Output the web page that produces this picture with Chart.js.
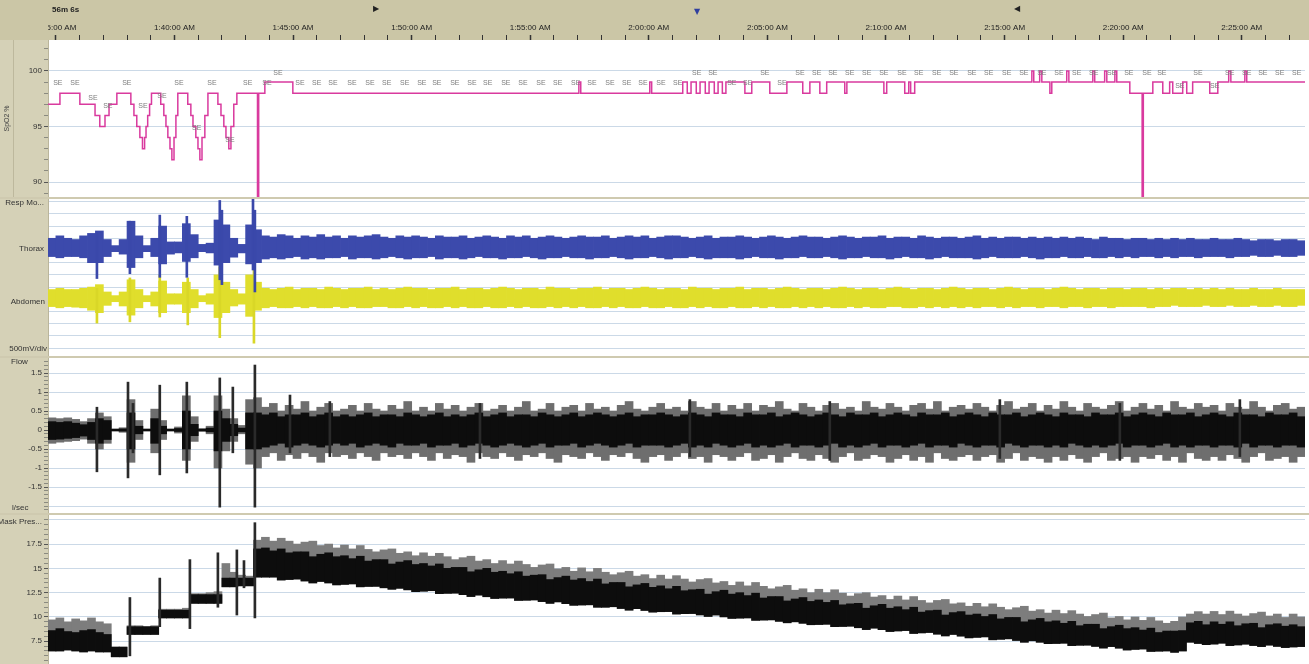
<!DOCTYPE html>
<html>
<head>
<meta charset="utf-8">
<script src="https://cdn.jsdelivr.net/npm/chart.js@4.4.1/dist/chart.umd.min.js"></script>
<style>
	body { margin: 0; background: #cfcab0; }
	#wrap { position: relative; width: 1309px; height: 664px; overflow: hidden; background: #cfcab0; }
	canvas { position: absolute; left: 0; display: block; }
</style>
</head>
<body>
<div id="wrap">
	<canvas id="spo2" width="1309" height="197" style="top:0px"></canvas>
	<canvas id="resp" width="1309" height="157" style="top:199px"></canvas>
	<canvas id="flow" width="1309" height="155" style="top:358px"></canvas>
	<canvas id="mask" width="1309" height="149" style="top:515px"></canvas>
</div>
<script>
// time in minutes after midnight, 20 s bins for the dense signals
const xMin = 94.6667, xMax = 147.6667
const binStart = 94.6667, binStep = 1 / 3

const timeTickMinutes = [95, 100, 105, 110, 115, 120, 125, 130, 135, 140, 145]
const timeTickLabels = ['1:35:00 AM', '1:40:00 AM', '1:45:00 AM', '1:50:00 AM', '1:55:00 AM', '2:00:00 AM', '2:05:00 AM', '2:10:00 AM', '2:15:00 AM', '2:20:00 AM', '2:25:00 AM']

const spo2TickValues = [89, 90, 91, 92, 93, 94, 95, 96, 97, 98, 99, 100, 101, 102]
const spo2LabelValues = [100, 95, 90]
const spo2Labels = ['100', '95', '90']
const flowLabelValues = [1.5, 1, 0.5, 0, -0.5, -1, -1.5]
const flowLabels = ['1.5', '1', '0.5', '0', '-0.5', '-1', '-1.5']
const maskLabelValues = [17.5, 15, 12.5, 10, 7.5]
const maskLabels = ['17.5', '15', '12.5', '10', '7.5']

const respLabels = ['Resp Mo...', 'Thorax', 'Abdomen', '500mV/div']
const respLabelValues = [12.9, 9.1, 4.8, 0.95]

// SpO2 step trace: time the level starts, level
const spo2Times = [94.66, 95.17, 96.01, 96.65, 96.85, 97.07, 97.24, 97.57,
	98.16, 98.29, 98.41, 98.54, 98.65, 98.74, 98.8, 98.87, 98.95, 99.03,
	99.42, 99.55, 99.64, 99.72, 99.81, 99.89, 99.98, 100.06, 100.14,
	100.56, 100.69, 100.78, 100.9, 100.99, 101.07, 101.16, 101.28, 101.41,
	101.83, 101.96, 102.08, 102.17, 102.29, 102.38, 102.5, 102.63,
	103.5, 103.55, 103.81, 104.99,
	117.05, 117.13, 120.04, 120.12,
	121.43, 121.62, 121.78, 122.0, 122.16, 122.38, 122.54, 122.76, 122.92, 123.1, 123.25,
	124.05, 124.34, 125.1, 125.82, 126.49, 126.79, 127.21, 127.5, 128.26, 128.35, 129.91, 130.03, 130.79, 130.96, 131.04, 131.21,
	136.15, 136.23, 136.48, 136.57, 136.91, 136.99, 137.62, 137.71, 138.72, 138.8, 139.22, 139.31, 139.65, 139.73,
	140.28, 140.8, 140.85, 141.25, 141.67, 141.96, 142.09, 142.51, 142.68, 142.93, 143.65, 143.99, 144.45, 144.54, 145.13, 145.21, 147.67]
const spo2Values = [97, 98, 97, 96, 95, 96, 97, 98,
	97, 96, 95, 94, 93, 94, 95, 96, 97, 98,
	97, 96, 95, 94, 93, 92, 94, 96, 98,
	97, 96, 95, 94, 93, 92, 94, 96, 98,
	97, 96, 95, 94, 93, 95, 97, 98,
	88, 98, 99, 98,
	99, 98, 99, 98,
	99, 98, 99, 98, 99, 98, 99, 98, 99, 98, 99,
	98, 99, 98, 99, 98, 99, 98, 99, 98, 99, 98, 99, 98, 99, 98, 99,
	100, 99, 100, 99, 98, 99, 100, 99, 100, 99, 100, 99, 100, 99,
	98, 88, 98, 99, 98, 99, 98, 99, 98, 99, 98, 99, 100, 99, 100, 99, 99]

// scored event marks above the SpO2 trace
const markerTimes = [95.08, 95.8, 97.99, 100.19, 101.58, 103.09, 103.9, 105.29, 106.0, 106.68,
	107.48, 108.24, 108.95, 109.71, 110.43, 111.06, 111.82, 112.54, 113.21, 113.97,
	114.69, 115.45, 116.16, 116.92, 117.6, 118.36, 119.07, 119.75, 120.51, 121.22,
	123.5, 124.17, 125.61,
	104.36, 122.02, 122.7, 124.89, 126.37, 127.08, 127.76, 128.47, 129.19, 129.91,
	130.67, 131.38, 132.14, 132.86, 133.62, 134.33, 135.09, 135.81, 136.57, 137.29,
	138.04, 138.76, 139.52, 140.24, 141.0, 141.63, 143.15, 144.49, 145.21, 145.89,
	146.6, 147.32,
	96.56, 97.19, 98.67, 99.47, 100.94, 102.34, 142.39, 143.86]
const markerValues = [98.9, 98.9, 98.9, 98.9, 98.9, 98.9, 98.9, 98.9, 98.9, 98.9,
	98.9, 98.9, 98.9, 98.9, 98.9, 98.9, 98.9, 98.9, 98.9, 98.9,
	98.9, 98.9, 98.9, 98.9, 98.9, 98.9, 98.9, 98.9, 98.9, 98.9,
	98.9, 98.9, 98.9,
	99.8, 99.8, 99.8, 99.8, 99.8, 99.8, 99.8, 99.8, 99.8, 99.8,
	99.8, 99.8, 99.8, 99.8, 99.8, 99.8, 99.8, 99.8, 99.8, 99.8,
	99.8, 99.8, 99.8, 99.8, 99.8, 99.8, 99.8, 99.8, 99.8, 99.8,
	99.8, 99.8,
	97.6, 96.8, 96.8, 97.7, 94.9, 93.8, 98.6, 98.6]

// Thorax envelope per bin (resp divisions)
const thoraxHi = [10.0, 10.2, 10.0, 9.9, 10.2, 10.4, 10.6, 9.9, 9.4, 9.9,
	11.4, 10.2, 9.4, 10.0, 11.0, 9.7, 9.7, 11.2, 10.3, 9.5,
	9.6, 11.5, 11.1, 10.0, 9.5, 11.1, 10.7,
	10.2, 10.1, 10.3, 10.2, 10.0, 10.2, 10.1, 10.3, 10.1, 10.2,
	10.0, 10.2, 10.1, 10.2, 10.3, 10.1, 10.0, 10.2, 10.1, 10.2,
	10.1, 10.0, 10.2, 10.1, 10.1, 10.2, 10.0, 10.1, 10.2, 10.1,
	10.0, 10.2, 10.1, 10.2, 10.0, 10.1, 10.2, 10.1, 10.0, 10.1,
	10.2, 10.1, 10.1, 10.2, 10.0, 10.1, 10.2, 10.1, 10.2, 10.0,
	10.1, 10.2, 10.2, 10.1, 10.0, 10.1, 10.2, 10.0, 10.1, 10.1,
	10.2, 10.1, 10.0, 10.1, 10.2, 10.1, 10.0, 10.1, 10.2, 10.1,
	10.1, 10.0, 10.1, 10.2, 10.1, 10.0, 10.1, 10.1, 10.2, 10.0,
	10.1, 10.1, 10.0, 10.2, 10.1, 10.0, 10.1, 10.1, 10.0, 10.1,
	10.2, 10.0, 10.1, 10.0, 10.1, 10.1, 10.0, 10.1, 10.0, 10.1,
	10.0, 10.1, 10.0, 10.1, 10.0, 9.9, 10.1, 10.0, 10.0, 9.9,
	10.0, 10.0, 9.9, 10.0, 9.9, 10.0, 9.9, 10.0, 9.9, 9.9,
	10.0, 9.9, 9.9, 10.0, 9.9, 9.8, 9.9, 9.9, 9.8, 9.9, 9.9, 9.8]
const thoraxLo = [8.5, 8.4, 8.5, 8.5, 8.4, 8.0, 8.0, 8.5, 8.9, 8.7,
	7.6, 8.4, 8.9, 8.5, 7.9, 8.7, 8.8, 8.1, 8.4, 8.9,
	8.8, 7.8, 8.0, 8.45, 8.8, 7.9, 8.0,
	8.3, 8.4, 8.3, 8.4, 8.5, 8.3, 8.4, 8.3, 8.4, 8.4,
	8.5, 8.3, 8.4, 8.4, 8.3, 8.4, 8.5, 8.4, 8.3, 8.4,
	8.4, 8.5, 8.3, 8.4, 8.4, 8.3, 8.4, 8.5, 8.4, 8.4,
	8.3, 8.4, 8.4, 8.5, 8.4, 8.3, 8.4, 8.4, 8.5, 8.4,
	8.4, 8.3, 8.4, 8.4, 8.5, 8.4, 8.3, 8.4, 8.4, 8.5,
	8.4, 8.3, 8.4, 8.4, 8.5, 8.4, 8.3, 8.4, 8.4, 8.4,
	8.3, 8.4, 8.5, 8.4, 8.4, 8.3, 8.4, 8.4, 8.5, 8.4,
	8.4, 8.5, 8.4, 8.3, 8.4, 8.4, 8.5, 8.4, 8.4, 8.3,
	8.4, 8.5, 8.4, 8.4, 8.3, 8.4, 8.5, 8.4, 8.4, 8.4,
	8.3, 8.4, 8.5, 8.4, 8.4, 8.4, 8.5, 8.4, 8.3, 8.4,
	8.4, 8.5, 8.4, 8.4, 8.5, 8.4, 8.4, 8.5, 8.4, 8.5,
	8.4, 8.5, 8.5, 8.4, 8.5, 8.4, 8.5, 8.5, 8.4, 8.5,
	8.5, 8.5, 8.4, 8.5, 8.5, 8.6, 8.5, 8.5, 8.6, 8.5, 8.5, 8.6]

// Abdomen envelope per bin
const abdomenHi = [5.8, 5.9, 5.8, 5.8, 5.9, 6.0, 6.2, 5.6, 5.3, 5.6,
	6.6, 5.8, 5.3, 5.6, 6.5, 5.45, 5.45, 6.4, 5.8, 5.3,
	5.45, 7.0, 6.4, 5.8, 5.45, 7.0, 6.4,
	5.9, 5.8, 5.9, 6.0, 5.8, 5.9, 5.9, 5.8, 6.0, 5.9,
	5.8, 5.9, 5.9, 6.0, 5.8, 5.9, 5.8, 5.9, 6.0, 5.9,
	5.9, 5.8, 5.9, 5.9, 6.0, 5.8, 5.9, 5.9, 5.8, 5.9,
	6.0, 5.9, 5.8, 5.9, 5.9, 5.8, 6.0, 5.9, 5.9, 5.8,
	5.9, 5.9, 6.0, 5.8, 5.9, 5.9, 5.8, 5.9, 6.0, 5.9,
	5.8, 5.9, 5.9, 5.8, 6.0, 5.9, 5.9, 5.8, 5.9, 5.9,
	6.0, 5.8, 5.9, 5.9, 5.8, 5.9, 6.0, 5.9, 5.8, 5.9,
	5.9, 5.8, 5.9, 6.0, 5.9, 5.8, 5.9, 5.9, 5.8, 5.9,
	6.0, 5.9, 5.8, 5.9, 5.9, 5.8, 5.9, 6.0, 5.9, 5.8,
	5.9, 5.9, 5.8, 5.9, 6.0, 5.9, 5.8, 5.9, 5.9, 5.8,
	5.9, 6.0, 5.9, 5.8, 5.9, 5.9, 5.8, 5.9, 5.9, 5.8,
	5.9, 5.9, 5.8, 5.9, 5.8, 5.9, 5.9, 5.8, 5.9, 5.8,
	5.9, 5.8, 5.9, 5.8, 5.8, 5.9, 5.8, 5.8, 5.9, 5.8, 5.8, 5.8]
const abdomenLo = [4.4, 4.3, 4.4, 4.35, 4.3, 4.1, 3.9, 4.5, 4.8, 4.45,
	3.7, 4.3, 4.8, 4.45, 3.9, 4.6, 4.6, 3.9, 4.3, 4.8,
	4.6, 3.5, 3.9, 4.45, 4.6, 3.6, 4.1,
	4.3, 4.4, 4.3, 4.3, 4.4, 4.3, 4.4, 4.3, 4.3, 4.4,
	4.3, 4.4, 4.3, 4.3, 4.4, 4.4, 4.3, 4.3, 4.4, 4.3,
	4.4, 4.3, 4.3, 4.4, 4.3, 4.4, 4.3, 4.3, 4.4, 4.3,
	4.3, 4.4, 4.3, 4.4, 4.3, 4.3, 4.4, 4.3, 4.4, 4.3,
	4.4, 4.3, 4.3, 4.4, 4.3, 4.4, 4.3, 4.3, 4.4, 4.3,
	4.3, 4.4, 4.3, 4.3, 4.4, 4.3, 4.4, 4.3, 4.3, 4.4,
	4.3, 4.3, 4.4, 4.3, 4.4, 4.3, 4.3, 4.4, 4.3, 4.4,
	4.3, 4.4, 4.3, 4.3, 4.4, 4.3, 4.4, 4.3, 4.3, 4.4,
	4.4, 4.3, 4.3, 4.4, 4.3, 4.4, 4.3, 4.4, 4.3, 4.4,
	4.3, 4.4, 4.4, 4.3, 4.4, 4.3, 4.4, 4.4, 4.3, 4.4,
	4.4, 4.3, 4.4, 4.4, 4.3, 4.4, 4.4, 4.3, 4.4, 4.4,
	4.4, 4.4, 4.3, 4.4, 4.4, 4.5, 4.4, 4.4, 4.4, 4.5,
	4.4, 4.4, 4.5, 4.4, 4.4, 4.5, 4.4, 4.4, 4.5, 4.4, 4.4, 4.5]

// Flow envelope per bin (l/sec), outer excursions and dense core
const flowHi = [0.32, 0.3, 0.32, 0.28, 0.22, 0.3, 0.45, 0.35, 0.03, 0.06,
	0.8, 0.25, 0.03, 0.55, 0.25, 0.03, 0.08, 0.9, 0.35, 0.04,
	0.1, 0.9, 0.55, 0.3, 0.12, 0.8, 0.85,
	0.6, 0.7, 0.5, 0.65, 0.55, 0.75, 0.5, 0.6, 0.7, 0.5,
	0.55, 0.65, 0.5, 0.7, 0.55, 0.5, 0.65, 0.55, 0.75, 0.5,
	0.6, 0.5, 0.7, 0.55, 0.65, 0.5, 0.6, 0.7, 0.5, 0.55,
	0.65, 0.5, 0.6, 0.75, 0.5, 0.55, 0.7, 0.5, 0.6, 0.65,
	0.5, 0.7, 0.55, 0.6, 0.5, 0.65, 0.75, 0.55, 0.5, 0.6,
	0.7, 0.55, 0.6, 0.5, 0.75, 0.6, 0.55, 0.7, 0.5, 0.65,
	0.55, 0.7, 0.5, 0.65, 0.6, 0.75, 0.55, 0.5, 0.7, 0.6,
	0.5, 0.65, 0.7, 0.55, 0.6, 0.5, 0.75, 0.6, 0.55, 0.7,
	0.6, 0.5, 0.65, 0.7, 0.55, 0.75, 0.5, 0.6, 0.65, 0.55,
	0.7, 0.6, 0.5, 0.65, 0.75, 0.55, 0.6, 0.7, 0.5, 0.65,
	0.55, 0.75, 0.6, 0.5, 0.7, 0.6, 0.55, 0.65, 0.75, 0.5,
	0.6, 0.7, 0.55, 0.65, 0.5, 0.75, 0.6, 0.55, 0.7, 0.6,
	0.65, 0.5, 0.7, 0.6, 0.55, 0.75, 0.6, 0.5, 0.65, 0.7, 0.55, 0.6]
const flowLo = [-0.35, -0.32, -0.3, -0.28, -0.24, -0.35, -0.5, -0.35, -0.03, -0.06,
	-0.85, -0.25, -0.03, -0.6, -0.25, -0.03, -0.08, -0.8, -0.3, -0.04,
	-0.1, -1.0, -0.55, -0.3, -0.1, -0.9, -1.0,
	-0.7, -0.6, -0.8, -0.65, -0.75, -0.6, -0.7, -0.85, -0.6, -0.7,
	-0.65, -0.75, -0.6, -0.7, -0.8, -0.6, -0.7, -0.65, -0.75, -0.6,
	-0.7, -0.8, -0.6, -0.75, -0.65, -0.7, -0.85, -0.6, -0.7, -0.75,
	-0.6, -0.7, -0.8, -0.65, -0.7, -0.6, -0.75, -0.85, -0.65, -0.7,
	-0.75, -0.6, -0.7, -0.8, -0.65, -0.7, -0.6, -0.75, -0.85, -0.7,
	-0.65, -0.8, -0.7, -0.6, -0.75, -0.7, -0.85, -0.65, -0.7, -0.8,
	-0.7, -0.6, -0.8, -0.75, -0.65, -0.85, -0.7, -0.6, -0.75, -0.8,
	-0.65, -0.75, -0.85, -0.7, -0.6, -0.8, -0.75, -0.65, -0.7, -0.85,
	-0.75, -0.65, -0.8, -0.7, -0.85, -0.6, -0.75, -0.8, -0.7, -0.65,
	-0.8, -0.7, -0.65, -0.85, -0.75, -0.6, -0.8, -0.7, -0.75, -0.85,
	-0.7, -0.8, -0.65, -0.75, -0.85, -0.7, -0.6, -0.8, -0.75, -0.7,
	-0.85, -0.7, -0.75, -0.65, -0.8, -0.7, -0.85, -0.6, -0.75, -0.8,
	-0.7, -0.8, -0.65, -0.75, -0.85, -0.7, -0.6, -0.8, -0.75, -0.7, -0.85, -0.7]
const flowCoreHi = [0.22, 0.2, 0.22, 0.18, 0.14, 0.2, 0.3, 0.25, 0.02, 0.03,
	0.45, 0.1, 0.02, 0.3, 0.1, 0.02, 0.04, 0.5, 0.15, 0.02,
	0.05, 0.5, 0.3, 0.15, 0.05, 0.45, 0.45,
	0.4, 0.45, 0.35, 0.4, 0.4, 0.45, 0.35, 0.4, 0.45, 0.35,
	0.4, 0.35, 0.4, 0.45, 0.35, 0.4, 0.4, 0.35, 0.45, 0.4,
	0.35, 0.4, 0.45, 0.35, 0.4, 0.35, 0.4, 0.45, 0.35, 0.4,
	0.45, 0.35, 0.4, 0.4, 0.35, 0.45, 0.4, 0.35, 0.4, 0.45,
	0.35, 0.4, 0.45, 0.4, 0.35, 0.4, 0.45, 0.35, 0.4, 0.4,
	0.45, 0.4, 0.35, 0.4, 0.45, 0.4, 0.35, 0.45, 0.4, 0.4,
	0.35, 0.45, 0.4, 0.4, 0.45, 0.35, 0.4, 0.45, 0.4, 0.35,
	0.4, 0.45, 0.4, 0.35, 0.45, 0.4, 0.4, 0.45, 0.35, 0.4,
	0.45, 0.4, 0.35, 0.45, 0.4, 0.4, 0.45, 0.35, 0.4, 0.45,
	0.4, 0.35, 0.45, 0.4, 0.4, 0.45, 0.35, 0.4, 0.45, 0.4,
	0.35, 0.45, 0.4, 0.4, 0.35, 0.45, 0.4, 0.4, 0.45, 0.35,
	0.4, 0.45, 0.4, 0.35, 0.45, 0.4, 0.4, 0.45, 0.35, 0.4,
	0.45, 0.4, 0.35, 0.45, 0.4, 0.4, 0.35, 0.45, 0.4, 0.4, 0.45, 0.35]
const flowCoreLo = [-0.25, -0.24, -0.22, -0.2, -0.16, -0.25, -0.35, -0.25, -0.02, -0.03,
	-0.5, -0.1, -0.02, -0.35, -0.1, -0.02, -0.04, -0.5, -0.15, -0.02,
	-0.05, -0.55, -0.3, -0.15, -0.05, -0.5, -0.5,
	-0.45, -0.4, -0.35, -0.45, -0.4, -0.35, -0.4, -0.45, -0.4, -0.35,
	-0.4, -0.35, -0.45, -0.4, -0.35, -0.4, -0.45, -0.35, -0.4, -0.4,
	-0.35, -0.45, -0.4, -0.4, -0.35, -0.45, -0.4, -0.35, -0.4, -0.45,
	-0.4, -0.35, -0.4, -0.45, -0.4, -0.35, -0.45, -0.4, -0.4, -0.35,
	-0.45, -0.4, -0.35, -0.4, -0.45, -0.4, -0.35, -0.45, -0.4, -0.4,
	-0.4, -0.45, -0.4, -0.35, -0.45, -0.4, -0.45, -0.35, -0.4, -0.45,
	-0.4, -0.35, -0.45, -0.4, -0.45, -0.4, -0.35, -0.45, -0.4, -0.4,
	-0.45, -0.4, -0.35, -0.45, -0.4, -0.45, -0.4, -0.35, -0.45, -0.4,
	-0.4, -0.45, -0.4, -0.35, -0.45, -0.4, -0.4, -0.45, -0.35, -0.4,
	-0.45, -0.4, -0.4, -0.45, -0.35, -0.4, -0.45, -0.4, -0.4, -0.45,
	-0.4, -0.45, -0.35, -0.4, -0.45, -0.4, -0.45, -0.4, -0.35, -0.45,
	-0.4, -0.4, -0.45, -0.4, -0.35, -0.45, -0.4, -0.45, -0.4, -0.4,
	-0.45, -0.4, -0.4, -0.45, -0.35, -0.45, -0.4, -0.4, -0.45, -0.4, -0.4, -0.45]

// Mask pressure per bin: spike tops, dense part top, bottom
const maskHi = [9.7, 9.9, 9.5, 9.8, 9.6, 9.9, 9.5, 9.3, 6.9, 6.9,
	9.1, 9.1, 9.0, 9.1, 10.8, 10.8, 10.8, 10.9, 12.4, 12.4,
	12.5, 12.6, 15.5, 14.6, 14.3, 14.2, 17.9,
	18.2, 17.8, 18.1, 17.8, 17.5, 17.7, 17.8, 17.35, 17.5, 17.1,
	17.4, 17.0, 17.35, 16.95, 16.7, 16.9, 17.0, 16.55, 16.7, 16.3,
	16.6, 16.25, 16.55, 16.2, 15.9, 16.1, 16.25, 15.75, 15.9, 15.5,
	15.8, 15.45, 15.75, 15.4, 15.1, 15.35, 15.45, 14.95, 15.1, 14.7,
	15.05, 14.65, 15.0, 14.6, 14.35, 14.55, 14.7, 14.2, 14.35, 13.95,
	14.3, 13.9, 14.25, 13.9, 13.6, 13.85, 13.95, 13.5, 13.65, 13.25,
	13.6, 13.2, 13.55, 13.15, 12.9, 13.1, 13.25, 12.75, 12.9, 12.5,
	12.85, 12.5, 12.8, 12.45, 12.15, 12.4, 12.5, 12.05, 12.2, 11.8,
	12.15, 11.75, 12.1, 11.7, 11.45, 11.7, 11.8, 11.35, 11.45, 11.1,
	11.4, 11.05, 11.35, 11.0, 10.75, 10.95, 11.1, 10.6, 10.75, 10.4,
	10.7, 10.35, 10.65, 10.3, 10.05, 10.25, 10.4, 9.9, 10.05, 9.7,
	10.0, 9.65, 9.95, 9.6, 9.35, 9.55, 10.0, 10.3, 10.55, 10.3,
	10.57, 10.25, 10.6, 10.3, 10.1, 10.35, 10.5, 10.1, 10.3, 9.95, 10.3, 10.0]
const maskMid = [8.6, 8.8, 8.5, 8.4, 8.6, 8.7, 8.4, 8.2, 6.9, 6.9,
	9.0, 9.0, 9.0, 9.0, 10.7, 10.7, 10.7, 10.7, 12.3, 12.3,
	12.3, 12.3, 14.0, 14.0, 14.0, 14.0, 17.0,
	17.1, 16.8, 17.0, 16.6, 16.7, 16.7, 16.2, 16.45, 16.6, 16.2,
	16.3, 16.0, 16.25, 15.75, 15.9, 15.9, 15.45, 15.65, 15.8, 15.4,
	15.5, 15.25, 15.45, 15.0, 15.1, 15.1, 14.65, 14.85, 15.0, 14.6,
	14.7, 14.45, 14.65, 14.2, 14.3, 14.35, 13.85, 14.05, 14.2, 13.8,
	13.95, 13.65, 13.9, 13.4, 13.55, 13.55, 13.1, 13.3, 13.45, 13.05,
	13.2, 12.9, 13.15, 12.7, 12.8, 12.85, 12.35, 12.6, 12.75, 12.35,
	12.5, 12.2, 12.45, 11.95, 12.1, 12.1, 11.65, 11.85, 12.0, 11.6,
	11.75, 11.5, 11.7, 11.25, 11.35, 11.4, 10.9, 11.15, 11.3, 10.9,
	11.05, 10.75, 11.0, 10.5, 10.65, 10.7, 10.2, 10.45, 10.55, 10.2,
	10.3, 10.05, 10.25, 9.8, 9.95, 9.95, 9.5, 9.7, 9.85, 9.5,
	9.6, 9.35, 9.55, 9.1, 9.25, 9.25, 8.8, 9.0, 9.15, 8.8,
	8.9, 8.65, 8.85, 8.4, 8.55, 8.55, 8.6, 9.4, 9.55, 9.2,
	9.5, 9.25, 9.5, 9.1, 9.3, 9.35, 8.9, 9.2, 9.3, 9.05, 9.2, 9.0]
const maskLo = [6.5, 6.5, 6.6, 6.5, 6.4, 6.5, 6.4, 6.4, 5.9, 5.9,
	8.2, 8.2, 8.2, 8.2, 9.9, 9.9, 9.9, 9.9, 11.4, 11.4,
	11.4, 11.4, 13.1, 13.1, 13.2, 13.2, 14.1,
	14.1, 14.1, 13.8, 13.85, 13.9, 13.7, 13.5, 13.65, 13.5, 13.3,
	13.35, 13.4, 13.1, 13.14, 13.15, 13.0, 12.85, 12.95, 12.79, 12.6,
	12.65, 12.7, 12.4, 12.43, 12.45, 12.29, 12.1, 12.25, 12.08, 11.9,
	11.94, 11.95, 11.7, 11.72, 11.75, 11.58, 11.4, 11.55, 11.37, 11.2,
	11.23, 11.25, 11.0, 11.0, 11.05, 10.87, 10.7, 10.85, 10.67, 10.5,
	10.54, 10.55, 10.3, 10.34, 10.35, 10.21, 10.05, 10.2, 10.01, 9.85,
	9.88, 9.9, 9.65, 9.68, 9.7, 9.55, 9.4, 9.5, 9.35, 9.2,
	9.22, 9.25, 9.0, 9.02, 9.05, 8.89, 8.7, 8.85, 8.69, 8.5,
	8.56, 8.6, 8.3, 8.36, 8.4, 8.23, 8.05, 8.2, 8.03, 7.85,
	7.9, 7.95, 7.65, 7.7, 7.75, 7.58, 7.4, 7.55, 7.4, 7.25,
	7.27, 7.3, 7.05, 7.09, 7.1, 6.97, 6.8, 6.95, 6.79, 6.6,
	6.66, 6.7, 6.45, 6.48, 6.5, 6.36, 6.5, 7.4, 7.27, 7.15,
	7.21, 7.3, 7.05, 7.12, 7.2, 7.06, 6.95, 7.1, 6.97, 6.85, 6.91, 6.95]

// narrow excursions during the arousal bursts
const thoraxSpikeT = [96.73, 98.12, 99.38, 100.52, 101.91, 102.0, 103.31, 103.39]
const thoraxSpikeLo = [6.7, 7.1, 6.8, 6.8, 6.6, 6.2, 7.4, 5.6]
const thoraxSpikeHi = [10.4, 11.4, 11.9, 11.8, 13.1, 12.3, 13.2, 12.3]
const abdomenSpikeT = [96.73, 98.12, 99.38, 100.56, 101.91, 103.35]
const abdomenSpikeLo = [3.05, 3.15, 3.55, 2.9, 1.85, 1.4]
const abdomenSpikeHi = [5.9, 6.75, 7.0, 6.75, 7.65, 7.65]
const flowSpikeT = [96.73, 98.04, 98.25, 99.38, 100.52, 101.91, 102.46, 103.39, 104.87, 106.55, 112.88, 121.73, 127.63, 134.8, 139.86, 144.92]
const flowSpikeLo = [-1.1, -1.26, -0.6, -1.18, -1.13, -2.03, -0.6, -2.03, -0.6, -0.7, -0.75, -0.7, -0.8, -0.75, -0.8, -0.7]
const flowSpikeHi = [0.6, 1.26, 0.7, 1.18, 1.26, 1.37, 1.13, 1.71, 0.92, 0.75, 0.7, 0.8, 0.75, 0.8, 0.7, 0.8]
const maskSpikeT = [98.12, 99.38, 100.65, 101.83, 102.63, 102.93, 103.39]
const maskSpikeLo = [6.0, 9.0, 8.8, 11.0, 10.2, 13.0, 9.9]
const maskSpikeHi = [12.0, 14.0, 15.9, 16.6, 16.9, 15.8, 19.7]

const gutterTan = '#d5d1b7'
const headerTan = '#cbc6a6'
const gridBlue = '#cbd9e7'
const fontFamily = '"Liberation Sans", Arial, sans-serif'

Chart.defaults.font.family = fontFamily
Chart.defaults.font.size = 8
Chart.defaults.color = '#333'

function near(list, v) {
	return list.findIndex(a => Math.abs(a - v) < 1e-6)
}
function labelFor(values, labels, v) {
	const i = near(values, v)
	return i < 0 ? '' : labels[i]
}

function toBins(lo, hi) {
	return lo.map((v, i) => ({ x: binStart + (i + 0.5) * binStep, y: [v, hi[i]] }))
}
function toSpikes(t, lo, hi) {
	return t.map((v, i) => ({ x: v, y: [lo[i], hi[i]] }))
}
function band(data, color, order, thickness) {
	return { type: 'bar', data: data, backgroundColor: color, borderWidth: 0, barThickness: thickness, grouped: false, order: order }
}

let minuteTicks = []
for (let m = 95; m <= 147; m++) minuteTicks.push(m)

function timeAxis(show) {
	if (!show) return { type: 'linear', min: xMin, max: xMax, offset: false, display: false, grid: { offset: false } }
	return {
		type: 'linear', position: 'top', min: xMin, max: xMax, offset: false,
		afterBuildTicks: ax => { ax.ticks = minuteTicks.map(v => ({ value: v })) },
		afterFit: ax => {
			ax.height = 40
			ax.paddingLeft = 0
			ax.paddingRight = 0
		},
		grid: {
			offset: false, drawOnChartArea: false, tickLength: 5, tickColor: '#333',
			tickWidth: c => near(timeTickMinutes, c.tick.value) >= 0 ? 1.5 : 1
		},
		border: { display: false },
		ticks: {
			autoSkip: false, maxRotation: 0, minRotation: 0, padding: 2, color: '#222',
			callback: v => labelFor(timeTickMinutes, timeTickLabels, v)
		}
	}
}

function valueAxis(min, max, tickValues, gridValues, labelValues, labels, showTicks) {
	return {
		type: 'linear', min: min, max: max, beginAtZero: false,
		afterBuildTicks: ax => { ax.ticks = tickValues.map(v => ({ value: v })) },
		afterFit: ax => {
			ax.width = 48
			ax.paddingTop = 0
			ax.paddingBottom = 0
		},
		grid: {
			color: c => near(gridValues, c.tick.value) >= 0 ? gridBlue : 'rgba(0,0,0,0)',
			drawTicks: showTicks, tickLength: 4,
			tickColor: c => near(labelValues, c.tick.value) >= 0 ? '#555' : '#8a8a80',
			tickWidth: 1
		},
		border: { display: true, color: '#bab59b' },
		ticks: {
			display: showTicks, autoSkip: false, padding: 2, color: '#333',
			callback: v => labelFor(labelValues, labels, v)
		}
	}
}

const panelBg = {
	id: 'panelBg',
	beforeDraw(chart) {
		const { ctx, chartArea: a, width, height } = chart
		ctx.save()
		ctx.fillStyle = gutterTan
		ctx.fillRect(0, 0, width, height)
		ctx.fillStyle = '#ffffff'
		ctx.fillRect(a.left, a.top, width - a.left, a.bottom - a.top)
		if (a.top > 0) {
			ctx.fillStyle = headerTan
			ctx.fillRect(0, 0, width, a.top)
		}
		ctx.restore()
	}
}

const headerBand = {
	id: 'headerBand',
	afterDraw(chart) {
		const { ctx, chartArea: a } = chart
		ctx.save()
		ctx.fillStyle = headerTan
		ctx.fillRect(0, 0, a.left, a.top)
		ctx.textBaseline = 'middle'
		ctx.fillStyle = '#222'
		ctx.font = 'bold 8px ' + fontFamily
		ctx.fillText('56m 6s', 52, 10)
		ctx.font = '8px "DejaVu Sans", sans-serif'
		ctx.textAlign = 'center'
		ctx.fillText('\u25B6', 376, 9)
		ctx.fillText('\u25C0', 1017, 9)
		ctx.fillStyle = '#2f3f9f'
		ctx.fillText('\u25BC', 697, 12)
		ctx.strokeStyle = '#bdb89d'
		ctx.beginPath()
		ctx.moveTo(13.5, a.top)
		ctx.lineTo(13.5, a.bottom)
		ctx.stroke()
		ctx.restore()
	}
}

const markerLabels = {
	id: 'markerLabels',
	afterDatasetsDraw(chart) {
		const ctx = chart.ctx
		chart.data.datasets.forEach((ds, i) => {
			if (!ds.markerText) return
			ctx.save()
			ctx.font = '7px ' + fontFamily
			ctx.fillStyle = '#7c7c7c'
			ctx.textAlign = 'center'
			ctx.textBaseline = 'middle'
			chart.getDatasetMeta(i).data.forEach(pt => ctx.fillText(ds.markerText, pt.x, pt.y))
			ctx.restore()
		})
	}
}

function gutterText(texts, values, xs, aligns) {
	return {
		id: 'gutterText',
		afterDraw(chart) {
			const { ctx, scales: { y } } = chart
			ctx.save()
			ctx.beginPath()
			ctx.rect(0, 0, y.right, chart.height)
			ctx.clip()
			ctx.font = '8px ' + fontFamily
			ctx.fillStyle = '#333'
			ctx.textBaseline = 'middle'
			texts.forEach((t, i) => {
				ctx.textAlign = aligns[i]
				ctx.fillText(t, xs[i], y.getPixelForValue(values[i]))
			})
			ctx.restore()
		}
	}
}

function baseOptions(xAxis, yAxis) {
	return {
		responsive: false,
		animation: false,
		layout: { padding: { left: 0, right: 4, top: 0, bottom: 0 } },
		scales: { x: xAxis, y: yAxis },
		plugins: { legend: { display: false }, tooltip: { enabled: false } }
	}
}

// SpO2 panel with the time header
const spo2Axis = valueAxis(88.65, 102.79, spo2TickValues, [90, 95, 100], spo2LabelValues, spo2Labels, true)
spo2Axis.title = { display: true, text: 'SpO2 %', color: '#444', font: { size: 7 }, padding: { top: 3, bottom: 0 } }
new Chart(document.getElementById('spo2'), {
	type: 'line',
	data: {
		datasets: [
			{ data: markerTimes.map((t, i) => ({ x: t, y: markerValues[i] })), showLine: false, pointRadius: 0, markerText: 'SE' },
			{ data: spo2Times.map((t, i) => ({ x: t, y: spo2Values[i] })), stepped: true, borderColor: '#d93a9e', borderWidth: 1.5, pointRadius: 0, fill: false }
		]
	},
	options: baseOptions(timeAxis(true), spo2Axis),
	plugins: [panelBg, headerBand, markerLabels]
})

// respiratory effort
let respTicks = []
for (let v = 1; v <= 13; v++) respTicks.push(v)
new Chart(document.getElementById('resp'), {
	type: 'bar',
	data: {
		datasets: [
			band(toSpikes(thoraxSpikeT, thoraxSpikeLo, thoraxSpikeHi), '#3a48aa', 1, 2),
			band(toSpikes(abdomenSpikeT, abdomenSpikeLo, abdomenSpikeHi), '#d9d727', 2, 2),
			band(toBins(thoraxLo, thoraxHi), '#3c4aac', 3, 8),
			band(toBins(abdomenLo, abdomenHi), '#e0de2c', 4, 8)
		]
	},
	options: baseOptions(timeAxis(false), valueAxis(0.35, 13.22, respTicks, respTicks, [], [], false)),
	plugins: [panelBg, gutterText(respLabels, respLabelValues, [44, 44, 45, 47], ['right', 'right', 'right', 'right'])]
})

// airflow
let flowTicks = []
for (let v = -21; v <= 18; v++) flowTicks.push(v / 10)
new Chart(document.getElementById('flow'), {
	type: 'bar',
	data: {
		datasets: [
			band(toSpikes(flowSpikeT, flowSpikeLo, flowSpikeHi), '#2a2a2a', 1, 2),
			band(toBins(flowCoreLo, flowCoreHi), '#0d0d0d', 2, 8),
			band(toBins(flowLo, flowHi), '#6e6e6e', 3, 8)
		]
	},
	options: baseOptions(timeAxis(false), valueAxis(-2.184, 1.895, flowTicks, [-2, -1.5, -1, -0.5, 0, 0.5, 1, 1.5], flowLabelValues, flowLabels, true)),
	plugins: [panelBg, gutterText(['Flow', 'l/sec'], [1.79, -2.05], [11, 12], ['left', 'left'])]
})

// mask pressure
let maskTicks = []
for (let v = 11; v <= 40; v++) maskTicks.push(v / 2)
new Chart(document.getElementById('mask'), {
	type: 'bar',
	data: {
		datasets: [
			band(toSpikes(maskSpikeT, maskSpikeLo, maskSpikeHi), '#2a2a2a', 1, 2),
			band(toBins(maskLo, maskMid), '#0d0d0d', 2, 8),
			band(toBins(maskLo, maskHi), '#7d7d7d', 3, 8)
		]
	},
	options: baseOptions(timeAxis(false), valueAxis(5.16, 20.49, maskTicks, [7.5, 10, 12.5, 15, 17.5, 20], maskLabelValues, maskLabels, true)),
	plugins: [panelBg, gutterText(['Mask Pres...'], [19.77], [42], ['right'])]
})
</script>
</body>
</html>
